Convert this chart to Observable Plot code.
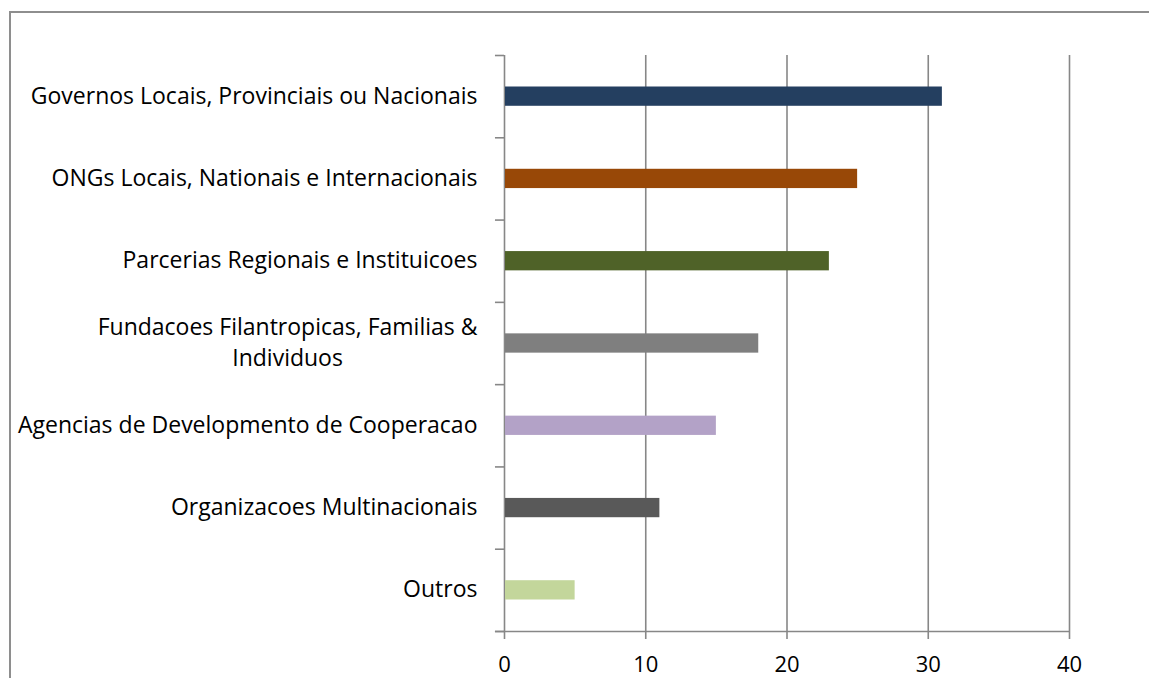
<!DOCTYPE html>
<html>
<head>
<meta charset="utf-8">
<script src="https://cdn.jsdelivr.net/npm/d3@7"></script>
<script src="https://cdn.jsdelivr.net/npm/@observablehq/plot@0.6"></script>
<style>
  html, body { margin: 0; padding: 0; background: #fff; overflow: hidden; }
  #wrap { position: relative; width: 1149px; height: 678px; }
  #frame { position: absolute; left: 9px; top: 11px; width: 1200px; height: 720px;
           border: 2px solid #8e8e8e; box-sizing: border-box; }
  #chart { position: absolute; left: 0; top: 0; }
</style>
</head>
<body>
<div id="wrap"><div id="frame"></div><div id="chart"></div></div>
<script>
const categories = [
  "Governos Locais, Provinciais ou Nacionais",
  "ONGs Locais, Nationais e Internacionais",
  "Parcerias Regionais e Instituicoes",
  "Fundacoes Filantropicas, Familias &\nIndividuos",
  "Agencias de Developmento de Cooperacao",
  "Organizacoes Multinacionais",
  "Outros"
];
const values = [31, 25, 23, 18, 15, 11, 5];
const colors = ["#243F60", "#984807", "#4F6228", "#7F7F7F", "#B3A2C7", "#595959", "#C3D69B"];
const xTicks = [0, 10, 20, 30, 40];

const data = categories.map((c, i) => ({cat: c, value: values[i], color: colors[i], i}));
const boundaries = d3.range(0, categories.length + 1);

const font = "'Open Sans', sans-serif";
const axisColor = "#878787";

const plot = Plot.plot({
  width: 1149,
  height: 678,
  marginLeft: 504,
  marginRight: 80,
  marginTop: 55,
  marginBottom: 47,
  style: {fontFamily: font, fontSize: "20px", color: "#000", background: "transparent"},
  x: {domain: [0, 40]},
  y: {domain: [0, categories.length], reverse: true, axis: null},
  marks: [
    Plot.ruleX(xTicks, {x: d => d, stroke: axisColor, strokeWidth: 1.6, strokeOpacity: 1}),
    Plot.rectX(data, {
      x1: 0, x2: "value",
      y1: d => d.i, y2: d => d.i + 1,
      insetTop: 31.5, insetBottom: 31.5, insetLeft: 1,
      fill: d => d.color
    }),
    Plot.ruleY(boundaries, {y: d => d, x1: -0.64, x2: 0, stroke: axisColor, strokeWidth: 1.6}),
    Plot.ruleY([categories.length], {x1: -0.64, x2: 40, stroke: axisColor, strokeWidth: 1.6}),
    Plot.axisX(xTicks, {tickSize: 8, tickPadding: 17, stroke: axisColor, strokeWidth: 1.6, fontSize: 22, fill: "#000", label: null}),
    Plot.text(data, {
      x: 0, y: d => d.i + 0.5, text: "cat",
      textAnchor: "end", lineAnchor: "middle", dx: -27, dy: -3,
      fontSize: 23, fill: "#000", lineHeight: 1.35
    })
  ]
});

document.getElementById("chart").appendChild(plot);

// center lines of multi-line labels within their right-aligned block
d3.select(plot).selectAll("text").each(function() {
  const tspans = this.querySelectorAll("tspan");
  if (tspans.length > 1) {
    const bb = this.getBBox();
    const cx = bb.x + bb.width / 2;
    this.setAttribute("text-anchor", "middle");
    const bb2 = this.getBBox();
    const shift = cx - (bb2.x + bb2.width / 2);
    const tr = this.getAttribute("transform") || "";
    this.setAttribute("transform", tr + ` translate(${shift},0)`);
  }
});
</script>
</body>
</html>
